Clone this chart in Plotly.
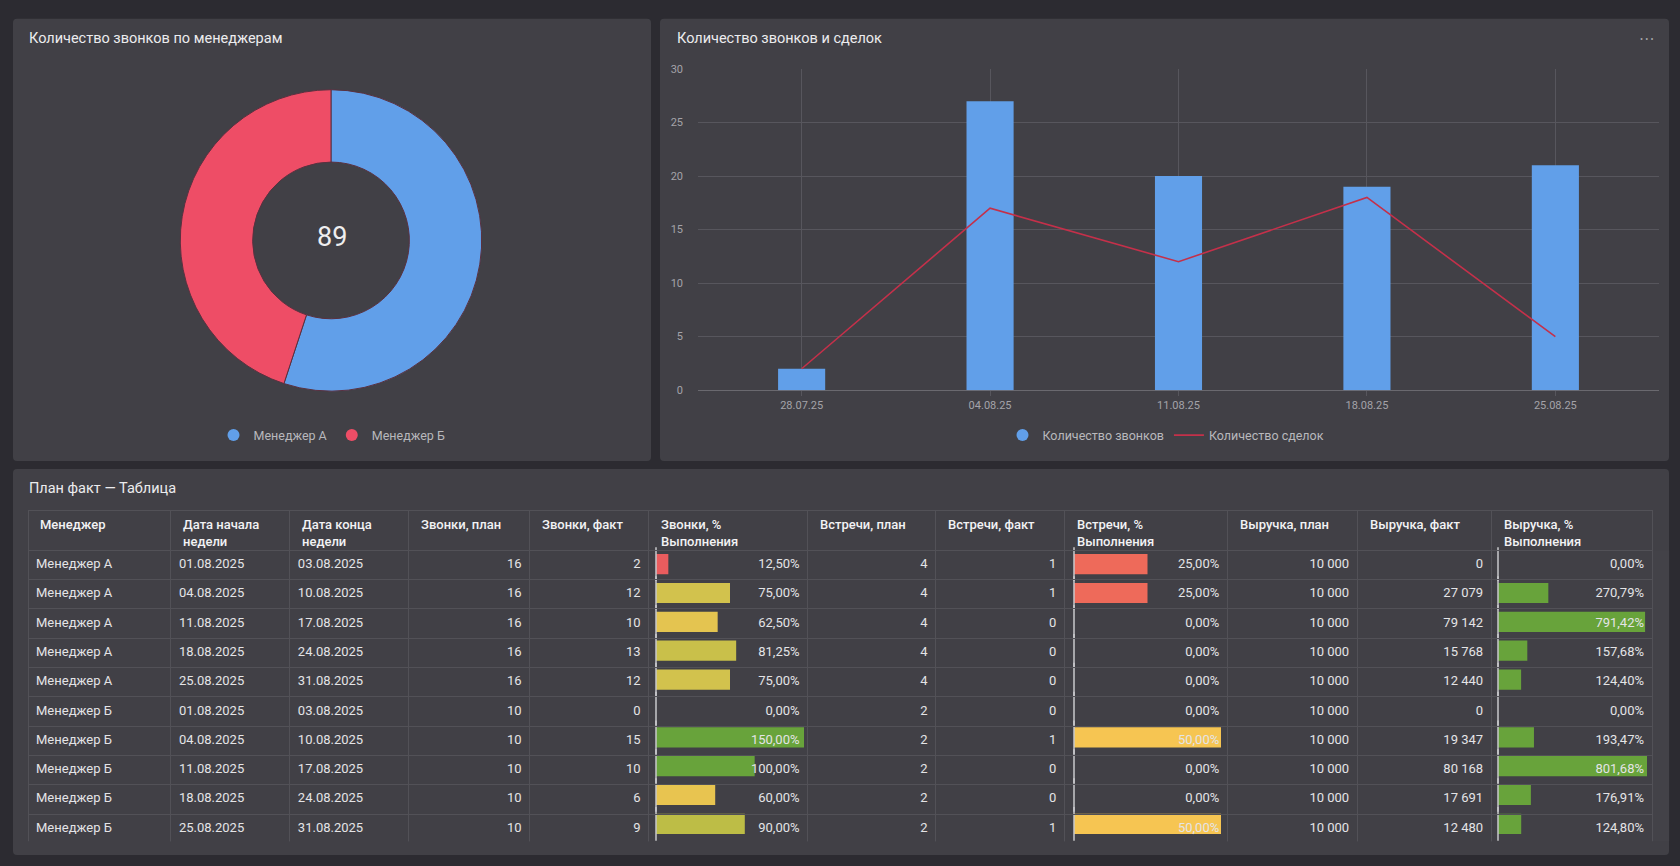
import plotly.graph_objects as go

W, H = 1680, 866

# кольцо: звонки по менеджерам
pie_labels = ["Менеджер А", "Менеджер Б"]
pie_values = [49, 40]

# звонки и сделки по неделям
weeks = ["28.07.25", "04.08.25", "11.08.25", "18.08.25", "25.08.25"]
calls = [2, 27, 20, 19, 21]
deals = [2, 17, 12, 18, 5]

# план факт - таблица
managers = ["Менеджер А", "Менеджер А", "Менеджер А", "Менеджер А", "Менеджер А",
            "Менеджер Б", "Менеджер Б", "Менеджер Б", "Менеджер Б", "Менеджер Б"]
week_start = ["01.08.2025", "04.08.2025", "11.08.2025", "18.08.2025", "25.08.2025",
              "01.08.2025", "04.08.2025", "11.08.2025", "18.08.2025", "25.08.2025"]
week_end = ["03.08.2025", "10.08.2025", "17.08.2025", "24.08.2025", "31.08.2025",
            "03.08.2025", "10.08.2025", "17.08.2025", "24.08.2025", "31.08.2025"]
calls_plan = [16, 16, 16, 16, 16, 10, 10, 10, 10, 10]
calls_fact = [2, 12, 10, 13, 12, 0, 15, 10, 6, 9]
calls_pct = [12.5, 75, 62.5, 81.25, 75, 0, 150, 100, 60, 90]
meet_plan = [4, 4, 4, 4, 4, 2, 2, 2, 2, 2]
meet_fact = [1, 1, 0, 0, 0, 0, 1, 0, 0, 1]
meet_pct = [25, 25, 0, 0, 0, 0, 50, 0, 0, 50]
rev_plan = [10000, 10000, 10000, 10000, 10000, 10000, 10000, 10000, 10000, 10000]
rev_fact = [0, 27079, 79142, 15768, 12440, 0, 19347, 80168, 17691, 12480]
rev_pct = [0, 270.79, 791.42, 157.68, 124.40, 0, 193.47, 801.68, 176.91, 124.80]

headers = ["Менеджер", "Дата начала<br>недели", "Дата конца<br>недели", "Звонки, план",
           "Звонки, факт", "Звонки, %<br>Выполнения", "Встречи, план", "Встречи, факт",
           "Встречи, %<br>Выполнения", "Выручка, план", "Выручка, факт", "Выручка, %<br>Выполнения"]

# colours / fonts
PAGE_BG = "#2c2b31"
PANEL_BG = "#414046"
GRID = "#57565d"
AXIS_TXT = "#a4a3a9"
TITLE_TXT = "#ececee"
BLUE = "#619fe9"
RED = "#ee4d66"
LINE_RED = "#c4304a"
FONT = "Roboto"

PCT_STOPS = [(0, (230, 77, 98)), (25, (238, 106, 90)), (50, (246, 197, 82)),
             (75, (210, 194, 77)), (90, (189, 189, 70)), (100, (104, 163, 59))]


def pct_color(v):
    if v >= PCT_STOPS[-1][0]:
        c = PCT_STOPS[-1][1]
        return "rgb(%d,%d,%d)" % c
    for (a, ca), (b, cb) in zip(PCT_STOPS, PCT_STOPS[1:]):
        if a <= v <= b:
            t = (v - a) / (b - a)
            c = [round(ca[i] + (cb[i] - ca[i]) * t) for i in range(3)]
            return "rgb(%d,%d,%d)" % tuple(c)


def fmt_int(v):
    return f"{v:,}".replace(",", " ")


def fmt_pct(v):
    return f"{v:.2f}".replace(".", ",") + "%"


def px_x(p):
    return p / W


def px_y(p):
    return 1 - p / H


def rounded_panel(x0, y0, x1, y1, r=4):
    X0, X1 = px_x(x0), px_x(x1)
    Y0, Y1 = px_y(y0), px_y(y1)
    rx, ry = r / W, r / H
    path = (f"M {X0+rx},{Y0} L {X1-rx},{Y0} Q {X1},{Y0} {X1},{Y0-ry} "
            f"L {X1},{Y1+ry} Q {X1},{Y1} {X1-rx},{Y1} L {X0+rx},{Y1} "
            f"Q {X0},{Y1} {X0},{Y1+ry} L {X0},{Y0-ry} Q {X0},{Y0} {X0+rx},{Y0} Z")
    return dict(type="path", path=path, xref="paper", yref="paper",
                fillcolor=PANEL_BG, line=dict(width=0), layer="below")


def label(text, x, y, size=14.5, color=TITLE_TXT, xanchor="left", yanchor="middle", **kw):
    return dict(text=text, x=px_x(x), y=px_y(y), xref="paper", yref="paper",
                xanchor=xanchor, yanchor=yanchor, showarrow=False,
                font=dict(family=FONT, size=size, color=color, **kw), align="left")


fig = go.Figure()

# donut
fig.add_trace(go.Pie(
    labels=pie_labels, values=pie_values, hole=0.52, sort=False,
    direction="clockwise", rotation=0, textinfo="none", showlegend=False,
    marker=dict(colors=[BLUE, RED], line=dict(color="#5a3140", width=1)),
    domain=dict(x=[px_x(178), px_x(484)], y=[px_y(391), px_y(85)]),
    hoverinfo="label+value",
))
for name, col in zip(pie_labels, [BLUE, RED]):
    fig.add_trace(go.Scatter(x=[None], y=[None], mode="markers", name=name,
                             marker=dict(symbol="circle", size=12, color=col),
                             legend="legend"))

# bars + line
fig.add_trace(go.Bar(x=weeks, y=calls, width=0.25, name="Количество звонков",
                     marker=dict(color=BLUE, line=dict(width=0)), showlegend=False))
fig.add_trace(go.Scatter(x=[None], y=[None], mode="markers", name="Количество звонков",
                         marker=dict(symbol="circle", size=12, color=BLUE), legend="legend2"))
fig.add_trace(go.Scatter(x=weeks, y=deals, mode="lines", name="Количество сделок",
                         line=dict(color=LINE_RED, width=1.6), legend="legend2"))

# table (header text drawn as annotations so the header row stays 40px)
TABLE_X0, TABLE_Y0 = 28, 512
HEADER_H, ROW_H = 40, 29.3
cols = [managers, week_start, week_end,
        [fmt_int(v) for v in calls_plan], [fmt_int(v) for v in calls_fact], [fmt_pct(v) for v in calls_pct],
        [fmt_int(v) for v in meet_plan], [fmt_int(v) for v in meet_fact], [fmt_pct(v) for v in meet_pct],
        [fmt_int(v) for v in rev_plan], [fmt_int(v) for v in rev_fact], [fmt_pct(v) for v in rev_pct]]
col_widths = [143, 119, 119, 121, 119, 159, 128, 129, 163, 130, 134, 161]
table_x1 = TABLE_X0 + sum(col_widths)
rows_y0 = TABLE_Y0 + HEADER_H
rows_y1 = rows_y0 + ROW_H * len(managers)
fig.add_trace(go.Table(
    domain=dict(x=[px_x(TABLE_X0), px_x(table_x1)], y=[px_y(rows_y1 + 4), px_y(TABLE_Y0)]),
    columnwidth=col_widths,
    header=dict(values=[""] * len(headers), height=HEADER_H,
                fill=dict(color="rgba(0,0,0,0)"), line=dict(color="#525157", width=1)),
    cells=dict(values=cols, height=ROW_H,
               align=["left", "left", "left"] + ["right"] * 9,
               fill=dict(color="rgba(0,0,0,0)"), line=dict(color="#525157", width=1),
               font=dict(family=FONT, size=13, color="#e4e4e6")),
))

header_notes = []
left = TABLE_X0
for text, w in zip(headers, col_widths):
    header_notes.append(label(text, left + 10, TABLE_Y0 + 5, size=13, color="#f2f2f4",
                              yanchor="top", weight=500))
    left += w

# in-cell bars for % columns
rows = list(range(len(managers)))
pct_cols = [(calls_pct, 656, 804), (meet_pct, 1074, 1221), (rev_pct, 1498, 1647)]
for i, (vals, x0, x1) in enumerate(pct_cols):
    n = i + 3
    fig.add_trace(go.Bar(x=vals, y=rows, orientation="h", width=0.7,
                         marker=dict(color=[pct_color(v) for v in vals], line=dict(width=0)),
                         xaxis=f"x{n}", yaxis=f"y{n}", showlegend=False, hoverinfo="x"))
    fig.add_trace(go.Scatter(x=[0] * len(rows), y=rows, mode="markers", cliponaxis=False,
                             marker=dict(symbol="line-ns", size=24, line=dict(width=1.5, color="#c9c9cc")),
                             xaxis=f"x{n}", yaxis=f"y{n}", showlegend=False, hoverinfo="skip"))
    fig.update_layout(**{
        f"xaxis{n}": dict(domain=[px_x(x0), px_x(x1)], range=[0, max(vals)], anchor=f"y{n}",
                          visible=False, fixedrange=True),
        f"yaxis{n}": dict(domain=[px_y(rows_y1), px_y(rows_y0)], range=[len(rows) - 0.5, -0.5],
                          anchor=f"x{n}", visible=False, fixedrange=True),
    })

axis_font = dict(family=FONT, size=11, color=AXIS_TXT)
legend_font = dict(family=FONT, size=12.5, color="#b8b8bc")
fig.update_layout(
    width=W, height=H, margin=dict(l=0, r=0, t=0, b=0),
    paper_bgcolor=PAGE_BG, plot_bgcolor="rgba(0,0,0,0)",
    font=dict(family=FONT, color=TITLE_TXT),
    showlegend=True,
    xaxis=dict(domain=[px_x(698), px_x(1659)], type="category", range=[-0.55, 4.55],
               showgrid=True, gridcolor=GRID, gridwidth=1, ticks="outside", ticklen=5,
               tickcolor=GRID, tickfont=axis_font, zeroline=False, showline=False, fixedrange=True),
    yaxis=dict(domain=[px_y(390), px_y(64)], range=[0, 30], dtick=5, showgrid=True,
               gridcolor=GRID, gridwidth=1, zeroline=True, zerolinecolor="#6a696f",
               zerolinewidth=1, tickfont=axis_font, ticklabelstandoff=14, fixedrange=True),
    legend=dict(orientation="h", x=px_x(332), xanchor="center", y=px_y(436), yanchor="middle",
                font=legend_font, bgcolor="rgba(0,0,0,0)"),
    legend2=dict(orientation="h", x=px_x(1166), xanchor="center", y=px_y(436), yanchor="middle",
                 font=legend_font, bgcolor="rgba(0,0,0,0)"),
    shapes=[rounded_panel(13, 13, 651, 462), rounded_panel(660, 13, 1669, 462),
            rounded_panel(13, 470, 1669, 862)],
    annotations=[
        label("Количество звонков по менеджерам", 27, 33),
        label("Количество звонков и сделок", 675, 33),
        label("План факт — Таблица", 27, 490),
        label("• • •", 1647, 34, size=9, color="#a9a9ad", xanchor="center"),
        label(str(sum(pie_values)), 332, 235, size=27, color="#eeeeef", xanchor="center"),
    ] + header_notes,
)

fig.write_html("out.html", config={"displayModeBar": False},
               post_script="document.body.style.margin='0';document.body.style.overflow='hidden';")
